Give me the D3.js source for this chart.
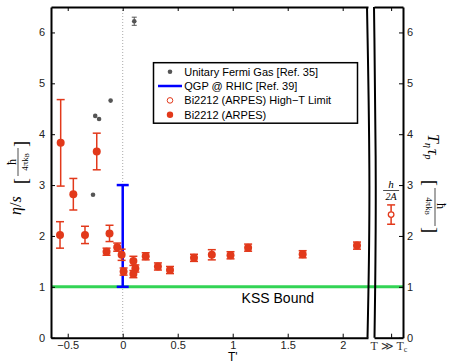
<!DOCTYPE html>
<html>
<head>
<meta charset="utf-8">
<script src="https://cdn.jsdelivr.net/npm/d3@7"></script>
<style>
  body { margin: 0; background: #fff; }
  svg { font-family: "Liberation Sans", Arial, sans-serif; }
</style>
</head>
<body>
<svg id="chart" width="449" height="363"></svg>
<script>
// data ----------------------------------
const fermiT = [0.105, -0.11, -0.25, -0.215, -0.27];
const fermiV = [6.22, 4.66, 4.36, 4.30, 2.81];
const fermiErr = [0.08, 0, 0, 0, 0];

const arpesT = [-0.564, -0.449, -0.236, -0.57, -0.343, -0.147, -0.12, -0.05, -0.01, 0.008,
  0.097, 0.115, 0.097, 0.209, 0.32, 0.43, 0.648, 0.81, 0.98, 1.14, 1.636, 2.13];
const arpesV = [3.83, 2.82, 3.66, 2.02, 2.02, 1.69, 2.05, 1.78, 1.63, 1.30,
  1.51, 1.36, 1.25, 1.60, 1.40, 1.33, 1.57, 1.63, 1.62, 1.77, 1.64, 1.81];
const arpesErr = [0.85, 0.31, 0.36, 0.26, 0.17, 0.07, 0.16, 0.08, 0.11, 0.07,
  0.09, 0.07, 0.07, 0.07, 0.07, 0.07, 0.07, 0.1, 0.07, 0.07, 0.07, 0.07];

const qgpT = 0, qgpLow = 1, qgpHigh = 3;
const highTpos = 0.59, highTV = 2.42, highTErr = 0.19;
const kssV = 1;

const xTicks = [-0.5, 0, 0.5, 1, 1.5, 2];
const yTicks = [0, 1, 2, 3, 4, 5, 6];
const legendItems = ['Unitary Fermi Gas [Ref. 35]', 'QGP @ RHIC [Ref. 39]',
  'Bi2212 (ARPES) High\u2212T Limit', 'Bi2212 (ARPES)'];

// layout ----------------------------------
const red = '#e2391b', gray = '#555', green = '#33d455', blue = '#0000ff';
const svg = d3.select('#chart');
const yTop = 7, yBot = 337.7;
const x = d3.scaleLinear().domain([-0.652, 2.23]).range([51, 368]);
const x2 = d3.scaleLinear().domain([0, 1]).range([374, 403]);
const y = d3.scaleLinear().domain([0, 6.5]).range([yBot, yTop]);

// zero dotted line
svg.append('line').attr('x1', x(0)).attr('x2', x(0)).attr('y1', yTop).attr('y2', yBot)
  .attr('stroke', '#aaa').attr('stroke-width', 1).attr('stroke-dasharray', '1,2');

// KSS bound
svg.append('line').attr('x1', x.range()[0]).attr('x2', x2.range()[1])
  .attr('y1', y(kssV)).attr('y2', y(kssV)).attr('stroke', green).attr('stroke-width', 3);
svg.append('text').attr('x', x(1.41)).attr('y', 302.7).attr('text-anchor', 'middle')
  .attr('font-size', 14).text('KSS Bound');

// axes main
const xAxisB = d3.axisBottom(x).tickValues(xTicks).tickSizeInner(-4).tickSizeOuter(0).tickPadding(4)
  .tickFormat(d => d === 0 ? '0' : d3.format('')(d).replace('-', '\u2212'));
const gxb = svg.append('g').attr('transform', 'translate(0,' + yBot + ')').call(xAxisB);
const gxt = svg.append('g').attr('transform', 'translate(0,' + yTop + ')')
  .call(d3.axisTop(x).tickValues(xTicks).tickSizeInner(-4).tickSizeOuter(0).tickFormat(''));
const gyl = svg.append('g').attr('transform', 'translate(51,0)')
  .call(d3.axisLeft(y).tickValues(yTicks).tickSizeInner(-4).tickSizeOuter(0).tickPadding(6)
    .tickFormat(d3.format('d')));
const gyr = svg.append('g').attr('transform', 'translate(403,0)')
  .call(d3.axisRight(y).tickValues(yTicks).tickSizeInner(-4).tickSizeOuter(0).tickPadding(4)
    .tickFormat(d3.format('d')));
const gx2b = svg.append('g').attr('transform', 'translate(0,' + yBot + ')')
  .call(d3.axisBottom(x2).tickValues([highTpos]).tickSizeInner(-4).tickSizeOuter(0).tickFormat(''));
const gx2t = svg.append('g').attr('transform', 'translate(0,' + yTop + ')')
  .call(d3.axisTop(x2).tickValues([highTpos]).tickSizeInner(-4).tickSizeOuter(0).tickFormat(''));
[gxb, gxt, gyl, gyr, gx2b, gx2t].forEach(g => {
  g.selectAll('.domain').attr('stroke', '#000').attr('stroke-width', 2);
  g.selectAll('.tick line').attr('stroke', '#000').attr('stroke-width', 1);
  g.selectAll('text').attr('font-size', 11).attr('fill', '#222')
    .attr('font-family', '"Liberation Sans", Arial, sans-serif');
});

// break curves
const brk = d3.line().curve(d3.curveBasis);
[[367, 370.5], [374, 376.5]].forEach(([x0, xm]) => {
  svg.append('path').attr('d', brk([[x0, yTop], [xm, (yTop + yBot) / 2 + 20], [x0 + 0.5, yBot]]))
    .attr('fill', 'none').attr('stroke', '#000').attr('stroke-width', 2);
});

// error bar helper
function errBar(g, cx, v, e, color, cap, width) {
  if (e <= 0) return;
  g.append('line').attr('x1', cx).attr('x2', cx).attr('y1', y(v - e)).attr('y2', y(v + e))
    .attr('stroke', color).attr('stroke-width', width);
  [v - e, v + e].forEach(t => g.append('line').attr('x1', cx - cap).attr('x2', cx + cap)
    .attr('y1', y(t)).attr('y2', y(t)).attr('stroke', color).attr('stroke-width', width));
}

// QGP
const gq = svg.append('g');
errBar(gq, x(qgpT), (qgpLow + qgpHigh) / 2, (qgpHigh - qgpLow) / 2, blue, 6, 2.5);

// fermi gas
const gf = svg.append('g');
fermiT.forEach((t, i) => errBar(gf, x(t), fermiV[i], fermiErr[i], gray, 2.5, 1));
gf.selectAll('circle').data(fermiT).join('circle')
  .attr('cx', d => x(d)).attr('cy', (d, i) => y(fermiV[i])).attr('r', 2.3).attr('fill', gray);

// ARPES
const ga = svg.append('g');
arpesT.forEach((t, i) => errBar(ga, x(t), arpesV[i], arpesErr[i], red, 4, 1.5));
ga.selectAll('circle').data(arpesT).join('circle')
  .attr('cx', d => x(d)).attr('cy', (d, i) => y(arpesV[i])).attr('r', 4).attr('fill', red);

// High-T limit
const gh = svg.append('g');
errBar(gh, x2(highTpos), highTV, highTErr, red, 4, 1.5);
gh.append('circle').attr('cx', x2(highTpos)).attr('cy', y(highTV)).attr('r', 2.8)
  .attr('fill', '#fff').attr('stroke', red).attr('stroke-width', 1.3);
const fr = svg.append('g').attr('font-family', '"Liberation Serif", serif').attr('font-style', 'italic')
  .attr('text-anchor', 'middle');
fr.append('text').attr('x', x2(highTpos)).attr('y', 188).attr('font-size', 11).text('h');
fr.append('line').attr('x1', x2(highTpos) - 8).attr('x2', x2(highTpos) + 8)
  .attr('y1', 190.5).attr('y2', 190.5).attr('stroke', '#000').attr('stroke-width', 0.7);
fr.append('text').attr('x', x2(highTpos)).attr('y', 199.5).attr('font-size', 10).text('2A');

// x labels
svg.append('text').attr('x', x(1)).attr('y', 361).attr('text-anchor', 'middle')
  .attr('font-size', 12).text("T'");
svg.append('text').attr('x', 389).attr('y', 350).attr('text-anchor', 'middle')
  .attr('font-family', '"Liberation Serif", serif').attr('font-size', 12).attr('fill', '#333')
  .html('T \u226B T<tspan font-size="8" dy="2">c</tspan>');

// left y label
const yl = svg.append('g').attr('transform', 'translate(20,178) rotate(-90)')
  .attr('font-family', '"Liberation Serif", serif');
yl.append('text').attr('x', -37).attr('y', 1).attr('font-size', 16).attr('font-style', 'italic')
  .html('\u03B7<tspan font-style="normal">/</tspan>s');
yl.append('text').attr('x', -6).attr('y', 7).attr('font-size', 18).text('[');
yl.append('text').attr('x', 16).attr('y', -4).attr('font-size', 12).attr('text-anchor', 'middle').text('\u0127');
yl.append('line').attr('x1', 2).attr('x2', 30).attr('y1', -2).attr('y2', -2)
  .attr('stroke', '#000').attr('stroke-width', 0.7);
yl.append('text').attr('x', 16).attr('y', 7.5).attr('font-size', 9).attr('text-anchor', 'middle')
  .html('4\u03C0k<tspan font-size="6" dy="1.5">B</tspan>');
yl.append('text').attr('x', 31).attr('y', 7).attr('font-size', 18).text(']');

// right y label
const yr = svg.append('g').attr('transform', 'translate(428,134) rotate(90)')
  .attr('font-family', '"Liberation Serif", serif');
yr.append('text').attr('x', 0).attr('y', 0).attr('font-size', 16).attr('font-style', 'italic')
  .html('T<tspan font-size="10" dy="3">\u03B7</tspan><tspan dy="-3" dx="1">\u03C4</tspan><tspan font-size="10" dy="3">p</tspan>');
yr.append('text').attr('x', 46).attr('y', 4).attr('font-size', 18).text('[');
yr.append('text').attr('x', 72).attr('y', -9).attr('font-size', 12).attr('text-anchor', 'middle').text('\u0127');
yr.append('line').attr('x1', 54).attr('x2', 92).attr('y1', -7).attr('y2', -7)
  .attr('stroke', '#000').attr('stroke-width', 0.7);
yr.append('text').attr('x', 72).attr('y', 2).attr('font-size', 9).attr('text-anchor', 'middle')
  .html('4\u03C0k<tspan font-size="6" dy="1.5">B</tspan>');
yr.append('text').attr('x', 93).attr('y', 4).attr('font-size', 18).text(']');

// legend
const lg = svg.append('g');
lg.append('rect').attr('x', 153.5).attr('y', 62.7).attr('width', 204).attr('height', 60.5)
  .attr('fill', '#fff').attr('stroke', '#000').attr('stroke-width', 1.5);
const rowY = [71.7, 86, 100.4, 114.8];
lg.selectAll('text').data(legendItems).join('text')
  .attr('x', 184.3).attr('y', (d, i) => rowY[i]).attr('dy', '0.35em').attr('font-size', 11)
  .text(d => d);
lg.append('circle').attr('cx', 170).attr('cy', rowY[0]).attr('r', 2.3).attr('fill', gray);
lg.append('line').attr('x1', 158).attr('x2', 182).attr('y1', rowY[1]).attr('y2', rowY[1])
  .attr('stroke', blue).attr('stroke-width', 2.5);
lg.append('circle').attr('cx', 170).attr('cy', rowY[2]).attr('r', 2.8).attr('fill', '#fff')
  .attr('stroke', red).attr('stroke-width', 1);
lg.append('circle').attr('cx', 170).attr('cy', rowY[3]).attr('r', 3.2).attr('fill', red);
</script>
</body>
</html>
